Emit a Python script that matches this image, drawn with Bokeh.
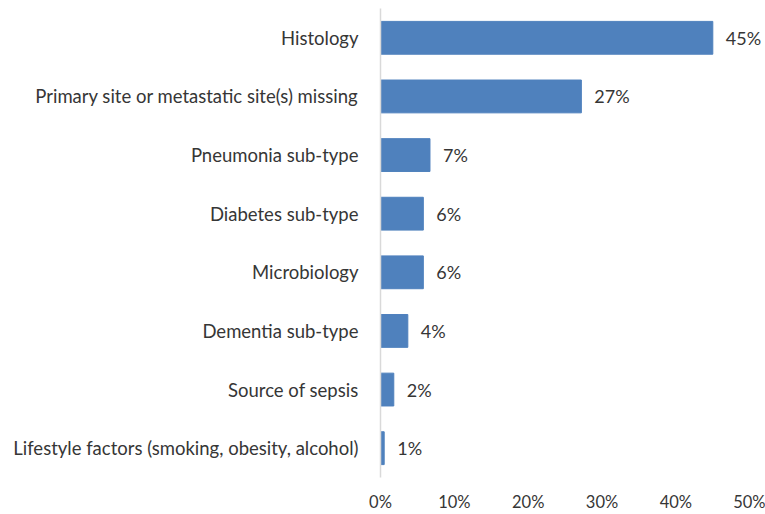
from bokeh.plotting import figure
from bokeh.models import ColumnDataSource, FactorRange, Range1d, FixedTicker, LabelSet
from bokeh.core.properties import value
from bokeh.embed import file_html
from bokeh.resources import INLINE

categories = [
    "Histology",
    "Primary site or metastatic site(s) missing",
    "Pneumonia sub-type",
    "Diabetes sub-type",
    "Microbiology",
    "Dementia sub-type",
    "Source of sepsis",
    "Lifestyle factors (smoking, obesity, alcohol)",
]
values = [45.0, 27.2, 6.7, 5.8, 5.8, 3.7, 1.8, 0.5]
labels = ["45%", "27%", "7%", "6%", "6%", "4%", "2%", "1%"]
x_ticks = [0, 10, 20, 30, 40, 50]
x_tick_labels = ["0%", "10%", "20%", "30%", "40%", "50%"]

FONT = "Lato"
TEXT_COLOR = "#363636"
BAR_COLOR = "#4F81BD"

src = ColumnDataSource(dict(cat=categories, val=values, lab=labels))

p = figure(
    width=765, height=514,
    y_range=FactorRange(*reversed(categories)),
    x_range=Range1d(0, 52),
    output_backend="svg", toolbar_location=None,
    min_border_left=380, min_border_right=1, min_border_top=8, min_border_bottom=37,
)
p.outline_line_color = None
p.xgrid.grid_line_color = None
p.ygrid.grid_line_color = None

p.hbar(y="cat", right="val", left=0, height=0.56, source=src,
       fill_color=BAR_COLOR, line_color=BAR_COLOR)

lbl = LabelSet(x="val", y="cat", text="lab", source=src, x_offset=13,
               text_baseline="middle", text_align="left",
               text_font=value(FONT), text_font_size=value("18px"),
               text_color=TEXT_COLOR)
p.add_layout(lbl)

xa = p.xaxis[0]
xa.ticker = FixedTicker(ticks=x_ticks)
xa.major_label_overrides = {t: l for t, l in zip(x_ticks, x_tick_labels)}
xa.axis_line_color = None
xa.major_tick_line_color = None
xa.minor_tick_line_color = None
xa.major_label_standoff = 8
xa.major_label_text_font = FONT
xa.major_label_text_font_size = "16.5px"
xa.major_label_text_color = TEXT_COLOR

ya = p.yaxis[0]
ya.axis_line_color = "#d9d9d9"
ya.axis_line_width = 1.5
ya.major_tick_line_color = None
ya.minor_tick_line_color = None
ya.major_label_standoff = 16
ya.major_label_text_font = FONT
ya.major_label_text_font_size = "18.5px"
ya.major_label_text_color = TEXT_COLOR

open("out.html", "w").write(file_html(p, INLINE))
